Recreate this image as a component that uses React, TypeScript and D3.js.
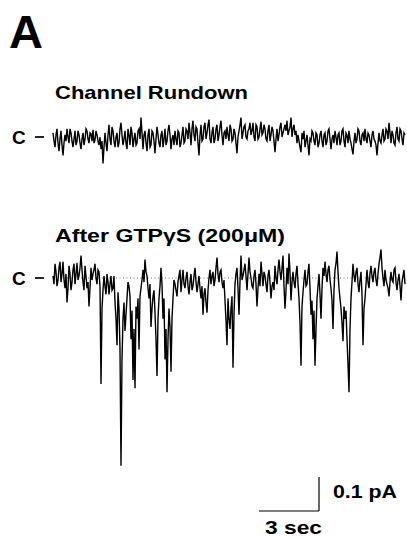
import React from 'react';
import * as d3 from 'd3';

// sample interval (s) and traces in fA, relative to the closed level "C"
const sampleDt = 0.05;

const rundownTrace = [
  12, -12, -30, 6, 24, -18, -42, -6, 18, -24, -54, -18, 6, -12, 24, 0, -18, 24, 12, -12,
  -30, -6, 18, -24, -12, 18, 6, -18, -36, -6, 12, -24, -6, 24, 18, -6, -18, 12, 9, -12,
  21, -18, -9, 18, 6, -12, -24, 0, -36, -12, -78, -30, 12, -18, -42, 6, 36, -6, -24, 30,
  18, -12, -30, 0, 12, -30, -18, 24, 42, 6, -24, -6, 18, -18, -36, 24, 6, -24, 30, 12,
  -30, -6, 12, -24, -18, 18, 24, -6, 57, 12, -36, 6, 18, -18, -42, 6, 24, -30, -24, 18,
  12, -12, -48, -6, 30, 6, -18, -30, 6, 18, -30, -6, 24, -24, -12, 18, 36, 6, -36, -6,
  6, -24, 18, -6, -24, 18, 12, -30, -18, 6, 30, -18, -12, 24, 18, -6, 42, 12, -24, 24,
  48, 6, -12, 30, 24, -18, -54, 6, 36, -12, -6, 30, 42, -6, 12, 36, 51, -6, -18, 12,
  30, -18, -6, 24, 36, -12, 6, 30, 48, 6, -24, 12, 18, -6, 30, 6, -12, 36, 24, -12,
  -6, 24, 12, -18, -48, 0, 18, 36, 57, -6, 12, 30, 36, 0, -6, 18, 24, 42, 6, 18,
  42, 0, -12, 36, 30, -6, 0, 24, 45, 6, 12, 36, 24, -6, -12, 18, 36, -12, 6, 30,
  18, -12, -45, -6, 24, -12, 6, 30, 42, 0, 12, 24, 36, 18, 48, 6, 18, 30, 57, 0,
  24, 36, 6, 18, -18, 6, -12, -30, -45, 12, -6, 18, -30, -12, 6, -24, -54, -6, -12, 18,
  12, -12, -24, 12, 6, -30, -18, 6, 18, -12, -30, 6, 12, -24, -12, 18, 24, -6, -36, -6,
  6, -18, 18, 0, -24, 6, 12, -24, -12, 18, 24, -12, -30, 12, 6, -18, 18, -6, -18, -36,
  -51, -12, 12, -18, -6, 24, 18, -12, -24, 6, 12, -12, 24, -6, -18, 12, 6, -12, -30, 6,
  18, -6, -12, -24, -54, -18, 12, -12, -18, 6, 24, -12, -6, 24, 18, -6, 42, 12, -18, 18,
  6, -18, -24, 12, 30, -6, -12, 24, 18, -6, -24, 12, 6,
];

const gtpTrace = [
  6, -18, 42, 18, -24, -6, 30, 48, -12, 12, 48, -6, -30, 12, -72, -30, 36, 12, -36, -12,
  24, 42, -18, 12, 45, -6, 6, 30, 66, 24, -12, -36, 36, 6, -30, -12, -84, -30, 30, -6,
  12, 24, 42, 0, -18, 24, 18, -24, -312, -90, -36, 6, -24, -48, 12, -12, -48, -18, 6, -36,
  -30, 6, -72, -120, -198, -42, -90, -210, -552, -240, -120, -72, -156, -108, -60, -12, -24, -54, -180, -96,
  -300, -150, -324, -84, -120, -60, -210, -54, -30, -6, 24, -12, 54, 18, 6, -30, -60, -18, -144, -90,
  -54, -36, -102, -180, -288, -120, -60, -24, 30, -18, -120, -60, -240, -150, -336, -180, -90, -144, -276, -120,
  -60, -6, -18, -36, -54, -12, 6, 24, -42, -6, 24, -18, -30, 0, 18, -24, -48, -12, 12, -36,
  -24, 6, 30, -12, -42, -18, 6, -30, -60, -24, -108, -48, -30, -72, -102, -36, 0, 24, -18, 6,
  18, -24, -6, 30, 60, 12, -12, 18, 24, -12, -30, -6, -66, -126, -198, -60, -120, -150, -90, -54,
  -264, -108, -18, 12, 30, -30, -108, -12, 66, -6, 6, 24, 42, 6, -36, 12, 60, 18, 0, -24,
  -30, 6, 24, -18, -84, -30, 12, -24, 48, 12, -24, 18, 6, -18, -42, 6, 24, -12, -60, -24,
  -12, -36, 36, 0, -18, 24, 54, 18, -6, 30, 66, -24, -90, -36, 30, -18, 72, 18, -66, -12,
  18, -12, -30, 12, 36, -18, -60, -132, -258, -84, -42, -6, 24, -24, -18, 18, 42, -30, -108, -66,
  -180, -96, -258, -150, -60, -24, 12, -48, -120, -30, 30, 6, 48, 12, -12, 24, 36, -6, -30, -66,
  -150, -36, 24, 42, 78, 18, -30, -60, -90, -132, -186, -84, -120, -96, -180, -252, -336, -150, -60, -12,
  42, 6, -12, 18, 30, -18, -42, -6, 18, -48, -198, -90, -60, -18, 24, -12, -30, 12, 36, 6,
  -12, 18, 30, -6, -24, 12, 42, 60, 84, 30, 0, -24, 24, -6, -18, -30, -54, -12, 18, -6,
  -12, 24, 30, -12, -36, -6, 12, -24, -66, -12, 6, 24, -18,
];

const panelLabel = 'A';
const traceTitles = ['Channel Rundown', 'After GTP\u03B3S (200\u03BCM)'];
const closedLabel = 'C';
const scaleTime = 3; // s
const scaleCurrent = 100; // fA
const scaleTimeLabel = '3 sec';
const scaleCurrentLabel = '0.1 pA';

const W = 407;
const H = 539;
const FONT = '"Liberation Sans", Arial, Helvetica, sans-serif';

type Pt = { t: number; v: number };
const toPts = (arr: number[]): Pt[] => arr.map((v, i) => ({ t: i * sampleDt, v }));

const App: React.FC = () => {
  const n = gtpTrace.length;
  const x = d3.scaleLinear().domain([0, (n - 1) * sampleDt]).range([53, 405]);

  // one y scale per trace, same gain (0.34 px / fA)
  const yTop = d3.scaleLinear().domain([0, -100]).range([137, 171]);
  const yBot = d3.scaleLinear().domain([0, -100]).range([278, 312]);

  const lineTop = d3.line<Pt>().x(d => x(d.t)).y(d => yTop(d.v));
  const lineBot = d3.line<Pt>().x(d => x(d.t)).y(d => yBot(d.v));

  // scale bar corner
  const cx = 319;
  const cy = 511;
  const barW = x(scaleTime) - x(0);
  const barH = yBot(-scaleCurrent) - yBot(0);

  return (
    <svg
      width={W}
      height={H}
      style={{ position: 'fixed', left: 0, top: 0, background: '#fff' }}
      fontFamily={FONT}
      fontWeight="bold"
    >
      <text x={9} y={48} fontSize={47}>{panelLabel}</text>

      <text x={55} y={99} fontSize={19} textLength={193} lengthAdjust="spacingAndGlyphs">
        {traceTitles[0]}
      </text>
      <text x={55} y={242} fontSize={19} textLength={230} lengthAdjust="spacingAndGlyphs">
        {traceTitles[1]}
      </text>

      {/* closed level markers */}
      {[yTop(0), yBot(0)].map((yy, i) => (
        <g key={i}>
          <text x={12} y={yy + 7} fontSize={19}>{closedLabel}</text>
          <line x1={35} x2={44} y1={yy} y2={yy} stroke="#000" strokeWidth={1.7} />
        </g>
      ))}

      {/* dotted closed level, second trace */}
      <line
        x1={x(0)}
        x2={x((n - 1) * sampleDt)}
        y1={yBot(0)}
        y2={yBot(0)}
        stroke="#555"
        strokeWidth={0.8}
        strokeDasharray="1,2.5"
      />

      <path d={lineTop(toPts(rundownTrace)) || ''} fill="none" stroke="#000" strokeWidth={1.4} />
      <path d={lineBot(toPts(gtpTrace)) || ''} fill="none" stroke="#000" strokeWidth={1.4} />

      {/* scale bar */}
      <line x1={cx - barW} x2={cx} y1={cy} y2={cy} stroke="#000" strokeWidth={1.2} />
      <line x1={cx} x2={cx} y1={cy - barH} y2={cy} stroke="#000" strokeWidth={1.2} />
      <text x={333} y={498} fontSize={18} textLength={64} lengthAdjust="spacingAndGlyphs">
        {scaleCurrentLabel}
      </text>
      <text x={265} y={534} fontSize={18} textLength={57} lengthAdjust="spacingAndGlyphs">
        {scaleTimeLabel}
      </text>
    </svg>
  );
};

export default App;
